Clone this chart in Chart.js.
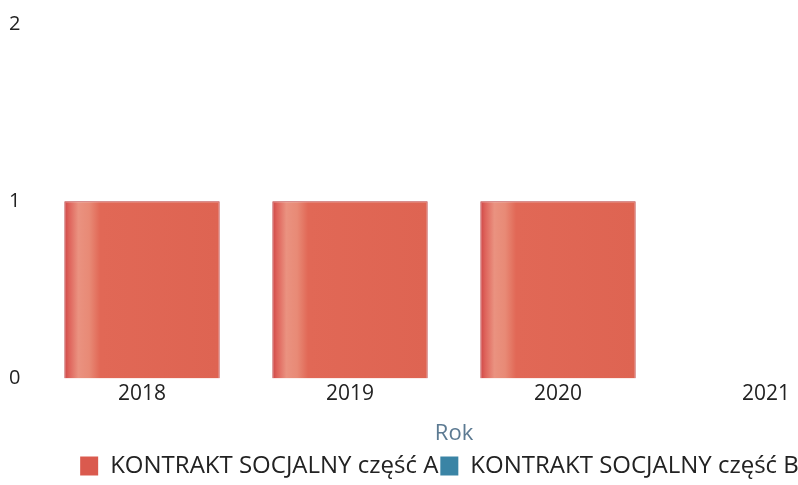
<!DOCTYPE html>
<html>
<head>
<meta charset="utf-8">
<script src="https://cdn.jsdelivr.net/npm/chart.js@4/dist/chart.umd.min.js"></script>
<style>
  html, body { margin: 0; padding: 0; background: #fff; overflow: hidden; }
  #wrap { width: 880px; height: 485px; }
</style>
</head>
<body>
<div id="wrap"><canvas id="chart" width="880" height="485"></canvas></div>
<script>
const years = ["2018", "2019", "2020", "2021"];
const partA = [1, 1, 1, null];
const partB = [null, null, null, null];
const seriesColors = ["rgb(218, 90, 78)", "rgb(58, 132, 165)"];

const FONT = "'Open Sans', 'Noto Sans', sans-serif";
const BAR_PCT = 0.9;
const CAT_PCT = 0.83;
const RED = "rgb(222, 100, 82)";

// scanned look of the red bars: dark edge, pale stripe, then flat red
function redFill(c) {
  const chart = c.chart;
  const xs = chart.scales.x;
  if (c.type !== "data" || !chart.chartArea || !xs) return RED;
  const bw = (xs.width / years.length) * CAT_PCT * BAR_PCT;
  const left = xs.getPixelForValue(c.dataIndex) - bw / 2;
  const g = chart.ctx.createLinearGradient(left, 0, left + bw, 0);
  g.addColorStop(0, "rgb(205, 70, 70)");
  g.addColorStop(0.03, "rgb(222, 98, 90)");
  g.addColorStop(0.09, "rgb(234, 146, 128)");
  g.addColorStop(0.16, "rgb(232, 138, 118)");
  g.addColorStop(0.23, "rgb(225, 104, 86)");
  g.addColorStop(1, RED);
  return g;
}

const ctx = document.getElementById("chart").getContext("2d");

new Chart(ctx, {
  type: "bar",
  data: {
    labels: years,
    datasets: [
      {
        label: "KONTRAKT SOCJALNY część A",
        data: partA,
        backgroundColor: redFill,
        borderColor: "rgb(185, 55, 55)",
        borderWidth: 1,
        barPercentage: BAR_PCT,
        categoryPercentage: CAT_PCT,
      },
      {
        label: "KONTRAKT SOCJALNY część B",
        data: partB,
        backgroundColor: seriesColors[1],
        borderColor: "rgb(45, 105, 135)",
        borderWidth: 1,
        barPercentage: BAR_PCT,
        categoryPercentage: CAT_PCT,
      },
    ],
  },
  options: {
    responsive: false,
    animation: false,
    layout: { padding: { top: 0, left: 9, right: 10, bottom: -3 } },
    scales: {
      x: {
        stacked: true,
        grid: { display: false, drawTicks: false },
        border: { display: false },
        ticks: { color: "#222", font: { family: FONT, size: 21 }, padding: 3 },
        title: {
          display: true,
          text: "Rok",
          color: "#5c7a92",
          font: { family: FONT, size: 22 },
          padding: { top: 11, bottom: 5 },
        },
      },
      y: {
        stacked: true,
        min: 0,
        max: 2,
        afterFit: (axis) => {
          axis.width = 29;
        },
        grid: { display: false, drawTicks: false },
        border: { display: false },
        ticks: {
          stepSize: 1,
          crossAlign: "far",
          color: "#222",
          font: { family: FONT, size: 20 },
          padding: 12,
        },
      },
    },
    plugins: {
      legend: {
        position: "bottom",
        labels: {
          color: "#222",
          font: { family: FONT, size: 24 },
          boxWidth: 18,
          boxHeight: 19,
          padding: 2,
          generateLabels: (chart) =>
            Chart.defaults.plugins.legend.labels.generateLabels(chart).map((item, i) => ({
              ...item,
              fillStyle: seriesColors[i],
              lineWidth: 0,
            })),
        },
      },
      tooltip: { enabled: false },
    },
  },
});
</script>
</body>
</html>
